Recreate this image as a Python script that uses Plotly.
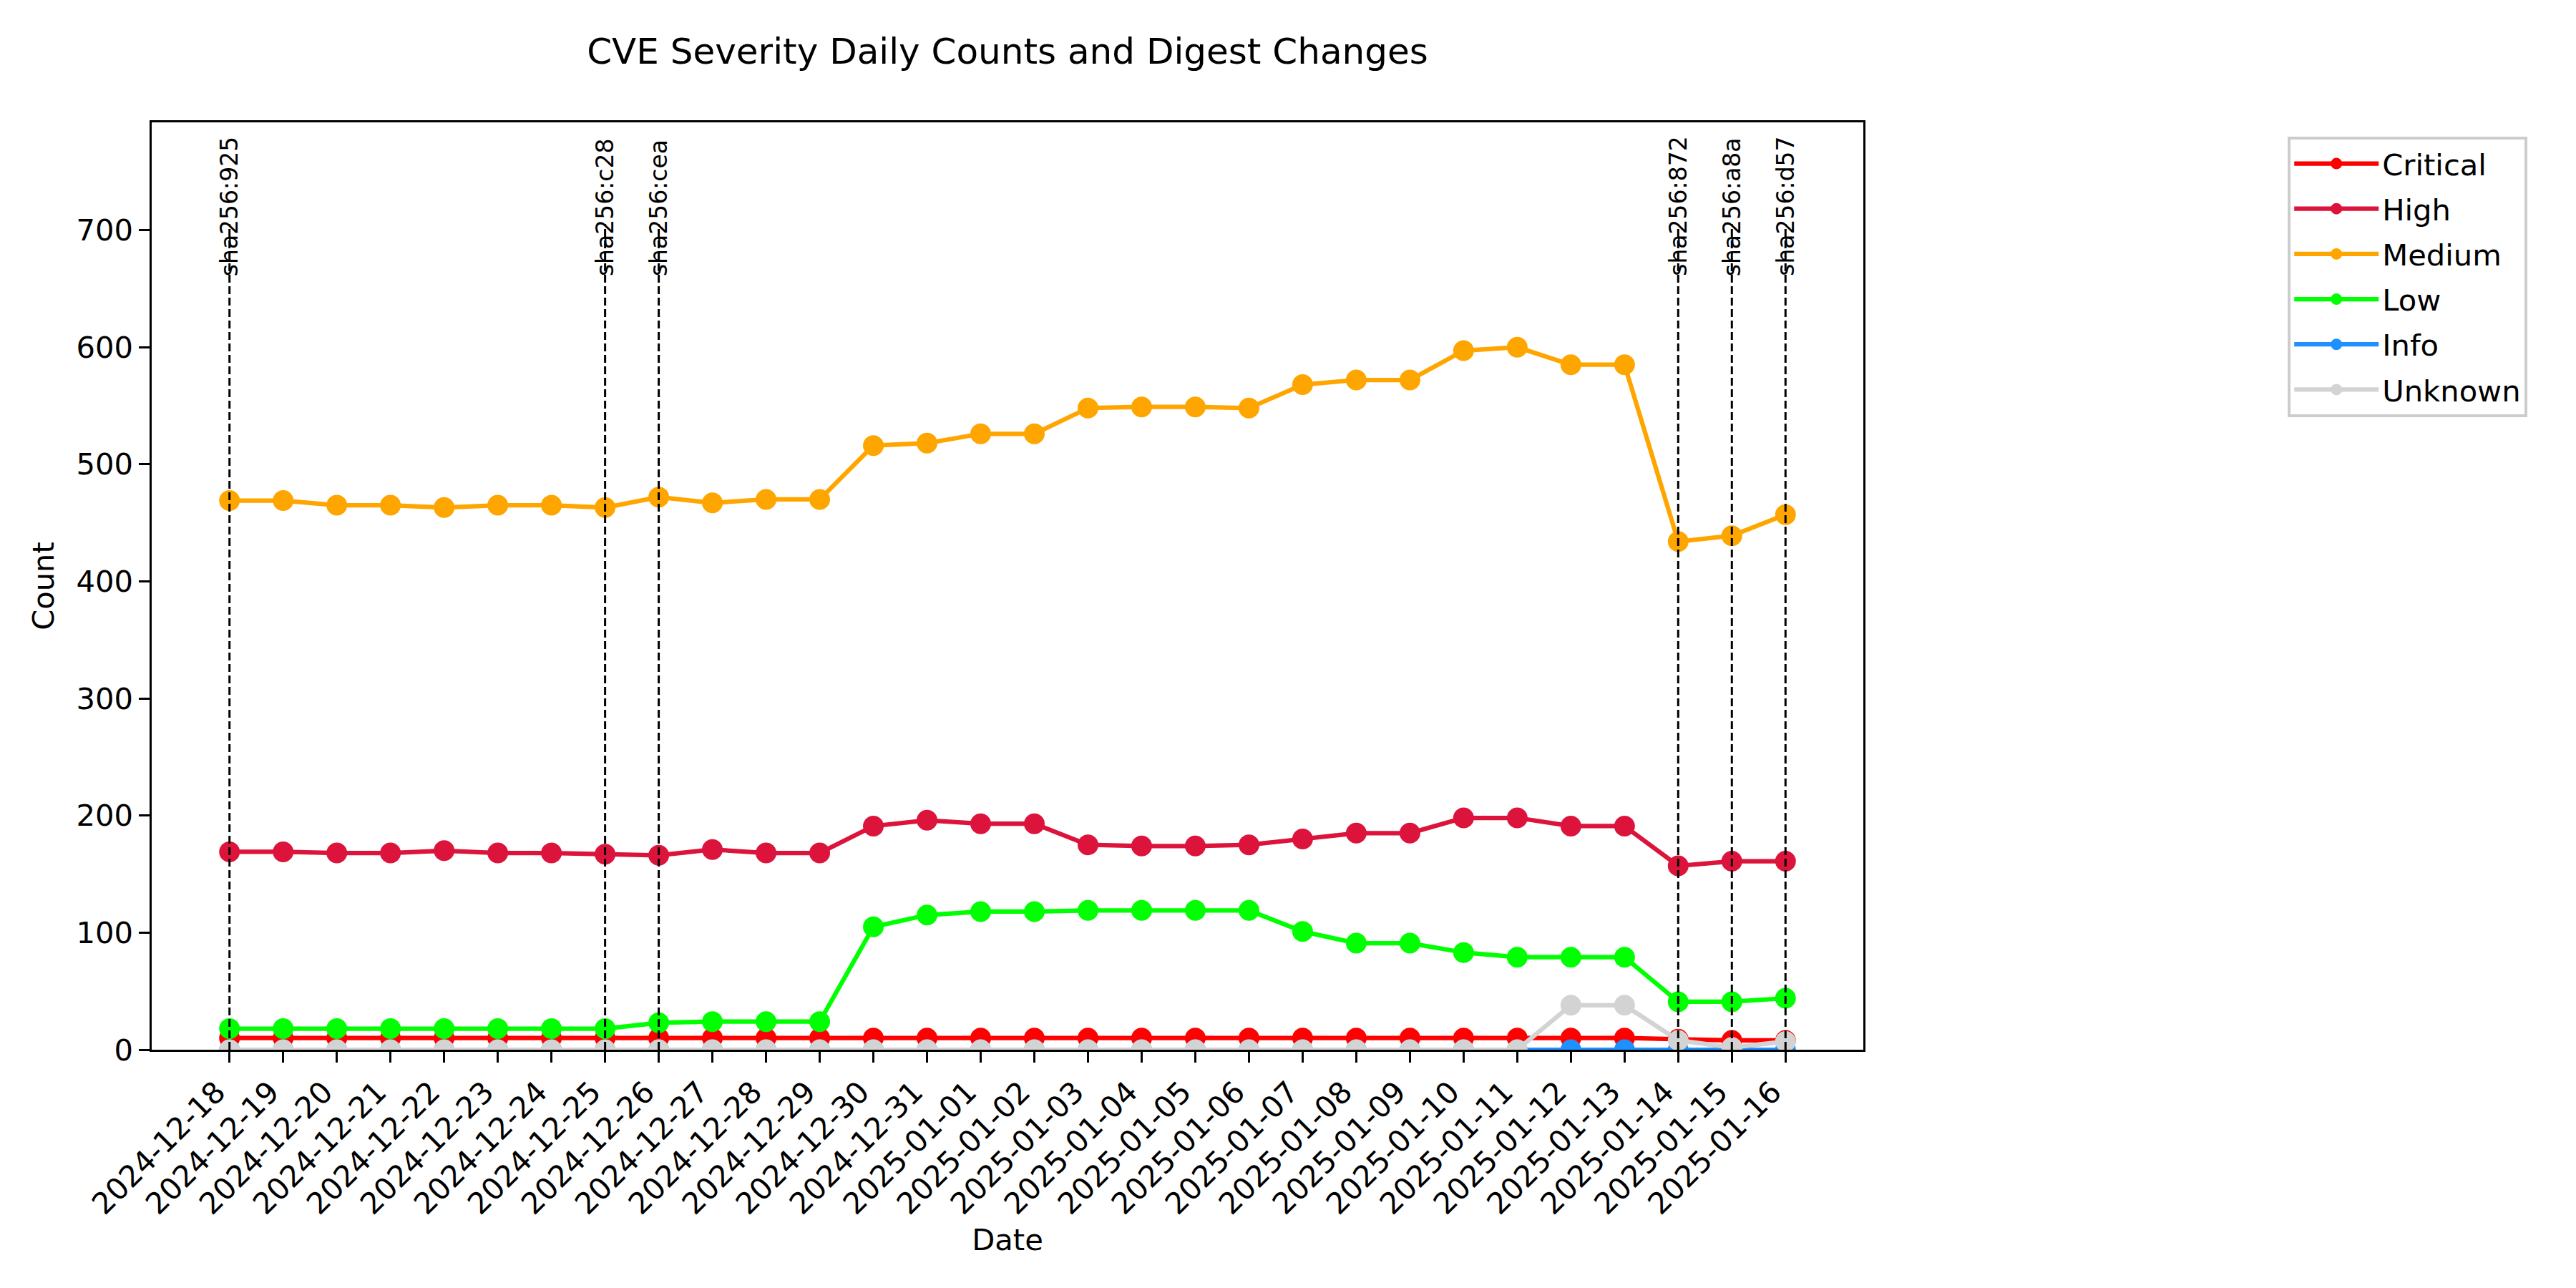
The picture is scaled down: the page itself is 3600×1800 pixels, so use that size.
import plotly.graph_objects as go

dates = ["2024-12-18", "2024-12-19", "2024-12-20", "2024-12-21", "2024-12-22",
         "2024-12-23", "2024-12-24", "2024-12-25", "2024-12-26", "2024-12-27",
         "2024-12-28", "2024-12-29", "2024-12-30", "2024-12-31", "2025-01-01",
         "2025-01-02", "2025-01-03", "2025-01-04", "2025-01-05", "2025-01-06",
         "2025-01-07", "2025-01-08", "2025-01-09", "2025-01-10", "2025-01-11",
         "2025-01-12", "2025-01-13", "2025-01-14", "2025-01-15", "2025-01-16"]

critical = [10, 10, 10, 10, 10, 10, 10, 10, 10, 10, 10, 10, 10, 10, 10,
            10, 10, 10, 10, 10, 10, 10, 10, 10, 10, 10, 10, 9, 8, 8]
high = [169, 169, 168, 168, 170, 168, 168, 167, 166, 171, 168, 168, 191, 196, 193,
        193, 175, 174, 174, 175, 180, 185, 185, 198, 198, 191, 191, 157, 161, 161]
medium = [469, 469, 465, 465, 463, 465, 465, 463, 472, 467, 470, 470, 516, 518, 526,
          526, 548, 549, 549, 548, 568, 572, 572, 597, 600, 585, 585, 434, 439, 457]
low = [18, 18, 18, 18, 18, 18, 18, 18, 23, 24, 24, 24, 105, 115, 118,
       118, 119, 119, 119, 119, 101, 91, 91, 83, 79, 79, 79, 41, 41, 44]
info = [0] * 30
unknown = [0, 0, 0, 0, 0, 0, 0, 0, 0, 0, 0, 0, 0, 0, 0,
           0, 0, 0, 0, 0, 0, 0, 0, 0, 0, 38, 38, 8, 2, 7]

series_names = ["Critical", "High", "Medium", "Low", "Info", "Unknown"]
series_values = [critical, high, medium, low, info, unknown]
series_colors = ["#FF0000", "#DC143C", "#FFA500", "#00FF00", "#1E90FF", "#D3D3D3"]

digest_dates = ["2024-12-18", "2024-12-25", "2024-12-26", "2025-01-14", "2025-01-15", "2025-01-16"]
digest_labels = ["sha256:925", "sha256:c28", "sha256:cea", "sha256:872", "sha256:a8a", "sha256:d57"]

FONT = "DejaVu Sans"
BODY = 8  # default page margin of the html body

fig = go.Figure()

for name, vals, col in zip(series_names, series_values, series_colors):
    fig.add_trace(go.Scatter(
        x=dates, y=vals, name=name, mode="lines+markers",
        line=dict(color=col, width=6.25),
        marker=dict(color=col, size=29),
        legendgroup=name,
    ))

ymax_val = max(max(v) for v in series_values)
label_y = ymax_val * 1.1
line_top = ymax_val * 1.175

for d, lab in zip(digest_dates, digest_labels):
    xi = dates.index(d)
    fig.add_shape(type="line", xref="x", yref="y", x0=xi, x1=xi, y0=0, y1=line_top,
                  line=dict(color="black", width=3, dash="11px,5px"), layer="above")
    fig.add_annotation(x=xi, y=label_y, xref="x", yref="y", text=lab, textangle=-90,
                       showarrow=False, xanchor="center", yanchor="bottom",
                       font=dict(family=FONT, size=33, color="black"), borderpad=0)

fig.update_layout(
    width=3600, height=1800,
    margin=dict(l=212 - BODY, r=996 + BODY, t=171 - BODY, b=333 + BODY),
    paper_bgcolor="white", plot_bgcolor="white",
    font=dict(family=FONT, size=41.67, color="black"),
    title=dict(text="CVE Severity Daily Counts and Digest Changes",
               font=dict(family=FONT, size=50, color="black"),
               x=0.5, xref="paper", xanchor="center",
               y=1 - (71 - BODY) / 1800, yref="container", yanchor="middle"),
    showlegend=True,
    legend=dict(x=1.248, y=0.9846, xanchor="left", yanchor="top",
                xref="paper", yref="paper",
                bgcolor="white", bordercolor="#CCCCCC", borderwidth=4,
                font=dict(family=FONT, size=41.67, color="black"),
                itemwidth=118, tracegroupgap=6, traceorder="grouped",
                itemsizing="trace"),
)

fig.update_xaxes(
    type="category", range=[-1.45, len(dates) - 1 + 1.45],
    tickmode="array", tickvals=dates, ticktext=dates, tickangle=-45,
    ticklabelshift=-18,
    showline=True, linecolor="black", linewidth=3.3, mirror=True,
    ticks="outside", ticklen=14.6, tickwidth=3.3, tickcolor="black",
    showgrid=False, zeroline=False,
    tickfont=dict(family=FONT, size=41.67, color="black"),
    title=dict(text="Date", font=dict(family=FONT, size=41.67, color="black"), standoff=12),
)
fig.update_yaxes(
    range=[0, ymax_val * 1.32], tickmode="array", tickvals=list(range(0, 800, 100)),
    showline=True, linecolor="black", linewidth=3.3, mirror=True,
    ticks="outside", ticklen=14.6, tickwidth=3.3, tickcolor="black",
    showgrid=False, zeroline=False,
    tickfont=dict(family=FONT, size=41.67, color="black"),
    title=dict(text="Count", font=dict(family=FONT, size=41.67, color="black"), standoff=18),
)

fig.write_html("out.html", config={"displayModeBar": False})
